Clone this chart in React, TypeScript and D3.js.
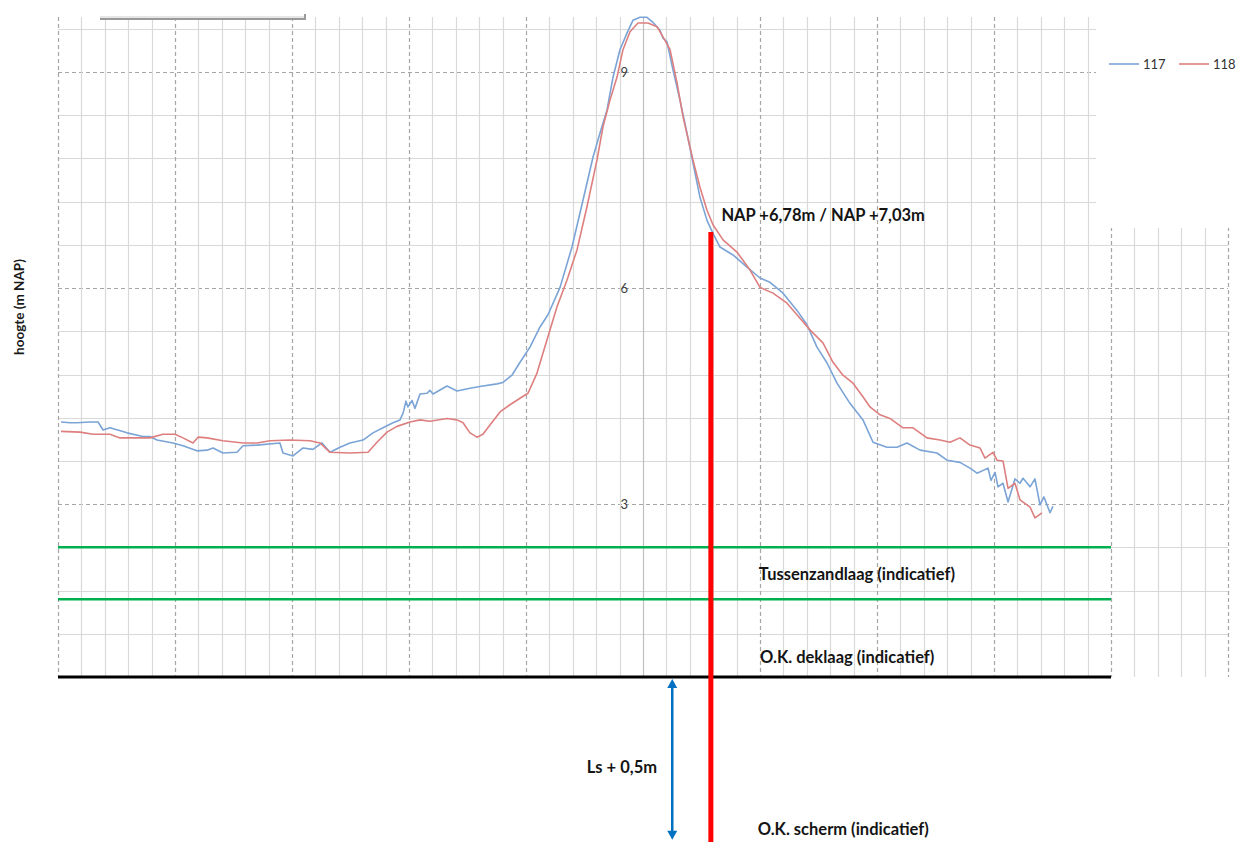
import { useEffect, useRef } from 'react';
import * as d3 from 'd3';

const WIDTH = 1237;
const HEIGHT = 842;

// dwarsprofiel 117: [afstand, hoogte (m NAP)]
const profile117: [number, number][] = [
  [0.26, 4.14], [1.03, 4.13], [1.62, 4.13], [2.74, 4.14], [3.42, 4.14], [3.85, 4.03], [4.44, 4.06],
  [5.9, 3.99], [7.26, 3.94], [7.86, 3.94], [8.46, 3.89], [9.83, 3.85], [10.68, 3.81], [11.88, 3.74],
  [12.74, 3.75], [13.25, 3.78], [14.1, 3.71], [15.3, 3.72], [15.81, 3.81], [17.01, 3.82], [18.97, 3.85],
  [19.23, 3.71], [20.09, 3.67], [20.94, 3.78], [21.79, 3.76], [22.56, 3.85], [23.25, 3.72], [24.1, 3.79],
  [24.96, 3.85], [26.07, 3.89], [26.92, 3.99], [27.78, 4.06], [28.63, 4.13], [29.23, 4.17], [29.49, 4.26],
  [29.74, 4.43], [29.91, 4.35], [30.26, 4.44], [30.51, 4.33], [30.94, 4.53], [31.54, 4.54], [31.79, 4.58],
  [32.05, 4.53], [32.91, 4.61], [33.25, 4.64], [34.1, 4.57], [35.21, 4.61], [36.32, 4.64], [37.52, 4.67],
  [38.03, 4.69], [38.8, 4.79], [39.49, 4.97], [40.34, 5.18], [41.2, 5.46], [41.88, 5.63], [42.91, 6.01],
  [43.93, 6.57], [44.87, 7.22], [45.73, 7.82], [46.32, 8.15], [46.92, 8.47], [47.44, 8.93], [48.03, 9.31],
  [48.63, 9.54], [49.15, 9.72], [49.74, 9.76], [50.34, 9.76], [50.85, 9.69], [51.45, 9.58], [51.71, 9.47],
  [52.05, 9.42], [52.56, 9.03], [53.16, 8.61], [53.76, 8.15], [54.27, 7.74], [54.87, 7.26], [55.47, 6.94],
  [55.98, 6.76], [56.58, 6.57], [57.69, 6.46], [58.89, 6.29], [60.0, 6.14], [60.85, 6.08], [61.97, 5.93],
  [63.16, 5.69], [64.02, 5.49], [64.87, 5.18], [65.73, 4.96], [66.58, 4.68], [67.69, 4.4], [68.8, 4.17],
  [69.66, 3.86], [70.85, 3.79], [71.71, 3.79], [72.56, 3.85], [73.68, 3.75], [75.13, 3.71], [75.98, 3.61],
  [77.09, 3.58], [77.95, 3.5], [78.55, 3.43], [79.49, 3.5], [79.74, 3.33], [80.09, 3.44], [80.34, 3.24],
  [80.77, 3.29], [81.2, 3.03], [81.79, 3.35], [82.22, 3.29], [82.48, 3.36], [83.08, 3.24], [83.5, 3.35],
  [83.93, 2.99], [84.27, 3.1], [84.79, 2.88], [85.04, 2.97],
];

// dwarsprofiel 118
const profile118: [number, number][] = [
  [0.26, 4.01], [1.88, 4.0], [2.99, 3.97], [4.44, 3.97], [5.3, 3.92], [6.15, 3.92], [7.86, 3.92],
  [8.97, 3.97], [10.0, 3.97], [10.68, 3.92], [11.54, 3.85], [11.97, 3.93], [12.74, 3.92], [14.1, 3.88],
  [15.81, 3.85], [17.01, 3.85], [18.12, 3.88], [19.83, 3.89], [21.54, 3.88], [22.39, 3.85], [23.25, 3.72],
  [24.96, 3.71], [26.5, 3.72], [27.26, 3.86], [28.12, 4.0], [28.97, 4.08], [30.09, 4.14], [30.94, 4.17],
  [31.79, 4.15], [33.25, 4.19], [34.1, 4.17], [34.62, 4.13], [35.21, 3.99], [35.81, 3.93], [36.32, 3.97],
  [36.92, 4.1], [37.78, 4.28], [38.63, 4.38], [39.49, 4.47], [40.17, 4.54], [40.94, 4.82], [41.79, 5.28],
  [42.65, 5.74], [43.5, 6.11], [44.36, 6.53], [45.21, 7.13], [46.07, 7.78], [46.58, 8.24], [47.18, 8.61],
  [47.78, 8.93], [48.29, 9.31], [48.89, 9.56], [49.57, 9.68], [50.43, 9.68], [51.2, 9.63], [51.88, 9.44],
  [52.31, 9.31], [52.91, 8.85], [53.42, 8.38], [54.27, 7.78], [54.87, 7.4], [55.47, 7.08], [55.98, 6.88],
  [56.84, 6.67], [58.03, 6.5], [59.15, 6.25], [60.0, 6.01], [61.11, 5.93], [62.31, 5.79], [63.16, 5.63],
  [64.27, 5.42], [65.38, 5.24], [66.24, 4.97], [67.09, 4.79], [67.95, 4.68], [68.8, 4.49], [69.4, 4.35],
  [70.26, 4.24], [71.11, 4.19], [72.22, 4.06], [73.08, 4.06], [74.27, 3.92], [75.38, 3.89], [76.24, 3.86],
  [77.09, 3.92], [77.95, 3.82], [78.8, 3.78], [79.23, 3.64], [79.91, 3.72], [80.26, 3.61], [80.77, 3.6],
  [81.2, 3.22], [81.79, 3.29], [82.22, 3.06], [83.08, 2.96], [83.5, 2.81], [84.1, 2.88],
];

const seriesNames = ['117', '118'];
const seriesColors = ['#7ba4d6', '#de7f7f'];

const yTickLabels = [3, 6, 9];
const yGridValues = [1.2, 1.8, 2.4, 3, 3.6, 4.2, 4.8, 5.4, 6, 6.6, 7.2, 7.8, 8.4, 9, 9.6];
const xGridValues = d3.range(0, 101, 2);

// indicatieve grondlagen (m NAP)
const tussenzandTop = 2.4;
const tussenzandBottom = 1.68;
const deklaagBottom = 0.6;
const schermBottom = -1.66;

// kruinhoogte markering
const crestX = 55.8;
const crestLevel = 6.78;
const arrowX = 52.5;

const App = () => {
  const svgRef = useRef<SVGSVGElement>(null);

  useEffect(() => {
    const svg = d3.select(svgRef.current);
    svg.selectAll('*').remove();

    const x = d3.scaleLinear().domain([0, 100]).range([58, 1228]);
    const y = d3.scaleLinear().domain([0.6, 9.764]).range([677, 17]);
    const [top, bottom] = [y(9.764), y(0.6)];
    const font = 'Lato, "Open Sans", sans-serif';

    const grid = svg.append('g');

    grid.selectAll('line.hgrid')
      .data(yGridValues)
      .join('line')
      .attr('x1', x(0))
      .attr('x2', x(100))
      .attr('y1', d => Math.round(y(d)) + 0.5)
      .attr('y2', d => Math.round(y(d)) + 0.5)
      .attr('stroke', d => (Math.abs(d % 3) < 0.01 ? '#a6a6a6' : '#d9d9d9'))
      .attr('stroke-dasharray', d => (Math.abs(d % 3) < 0.01 ? '4,3' : null))
      .attr('stroke-width', 1.2);

    grid.selectAll('line.vgrid')
      .data(xGridValues)
      .join('line')
      .attr('x1', d => Math.round(x(d)) + 0.5)
      .attr('x2', d => Math.round(x(d)) + 0.5)
      .attr('y1', top)
      .attr('y2', bottom)
      .attr('stroke', d => (d === 50 ? '#bfbfbf' : d % 10 === 0 ? '#a6a6a6' : '#d9d9d9'))
      .attr('stroke-dasharray', d => (d % 10 === 0 && d !== 50 ? '4,3' : null))
      .attr('stroke-width', 1.2);

    // y-as labels
    svg.selectAll('text.ytick')
      .data(yTickLabels)
      .join('text')
      .attr('x', x(50) - 15)
      .attr('y', d => y(d) + 5)
      .attr('text-anchor', 'end')
      .attr('font-family', font)
      .attr('font-size', 13)
      .attr('fill', '#404040')
      .text(d => d);

    svg.append('text')
      .attr('transform', `translate(24,${(top + bottom) / 2 - 40}) rotate(-90)`)
      .attr('text-anchor', 'middle')
      .attr('font-family', font)
      .attr('font-size', 13.5)
      .attr('font-weight', 'bold')
      .attr('fill', '#1a1a1a')
      .text('hoogte (m NAP)');

    // grondlagen
    [tussenzandTop, tussenzandBottom].forEach(v => {
      svg.append('line')
        .attr('x1', x(0)).attr('x2', x(90))
        .attr('y1', y(v)).attr('y2', y(v))
        .attr('stroke', '#00b050')
        .attr('stroke-width', 2.5);
    });
    svg.append('line')
      .attr('x1', x(0)).attr('x2', x(90))
      .attr('y1', y(deklaagBottom)).attr('y2', y(deklaagBottom))
      .attr('stroke', '#000')
      .attr('stroke-width', 3);

    // profielen
    const line = d3.line<[number, number]>().x(d => x(d[0])).y(d => y(d[1]));
    [profile117, profile118].forEach((p, i) => {
      svg.append('path')
        .datum(p)
        .attr('d', line)
        .attr('fill', 'none')
        .attr('stroke', seriesColors[i])
        .attr('stroke-width', 1.6)
        .attr('stroke-linejoin', 'round');
    });

    // kruin markering
    svg.append('line')
      .attr('x1', x(crestX)).attr('x2', x(crestX))
      .attr('y1', y(crestLevel)).attr('y2', HEIGHT)
      .attr('stroke', '#ff0000')
      .attr('stroke-width', 5);

    // pijl Ls + 0,5m
    const ax = x(arrowX);
    const ay1 = y(deklaagBottom) + 2;
    const ay2 = y(schermBottom);
    svg.append('line')
      .attr('x1', ax).attr('x2', ax)
      .attr('y1', ay1 + 6).attr('y2', ay2 - 6)
      .attr('stroke', '#0070c0')
      .attr('stroke-width', 2.5);
    svg.append('path')
      .attr('d', `M${ax},${ay1} L${ax - 5},${ay1 + 9} L${ax + 5},${ay1 + 9} Z`)
      .attr('fill', '#0070c0');
    svg.append('path')
      .attr('d', `M${ax},${ay2} L${ax - 5},${ay2 - 9} L${ax + 5},${ay2 - 9} Z`)
      .attr('fill', '#0070c0');

    const labels = [
      { text: 'NAP +6,78m / NAP +7,03m', x: 56.7, y: 6.93 },
      { text: 'Tussenzandlaag (indicatief)', x: 59.9, y: 1.95 },
      { text: 'O.K. deklaag (indicatief)', x: 60, y: 0.8 },
      { text: 'Ls + 0,5m', x: 45.2, y: -0.73 },
      { text: 'O.K. scherm (indicatief)', x: 59.8, y: -1.59 },
    ];
    svg.selectAll('text.note')
      .data(labels)
      .join('text')
      .attr('x', d => x(d.x))
      .attr('y', d => y(d.y))
      .attr('font-family', font)
      .attr('font-size', 16.5)
      .attr('font-weight', 'bold')
      .attr('fill', '#141414')
      .text(d => d.text);

    // legenda vlak
    svg.append('rect')
      .attr('x', 1096).attr('y', 0)
      .attr('width', WIDTH - 1096).attr('height', 228)
      .attr('fill', '#fff');

    const legend = svg.append('g').attr('transform', 'translate(1109,64)');
    seriesNames.forEach((name, i) => {
      const g = legend.append('g').attr('transform', `translate(${i * 70},0)`);
      g.append('line')
        .attr('x1', 0).attr('x2', 30)
        .attr('stroke', seriesColors[i])
        .attr('stroke-width', 1.6);
      g.append('text')
        .attr('x', 34).attr('y', 5)
        .attr('font-family', font)
        .attr('font-size', 13)
        .attr('fill', '#333')
        .text(name);
    });

    // rand van tekstvak linksboven
    svg.append('rect').attr('x', 100).attr('y', 16).attr('width', 206).attr('height', 2).attr('fill', '#e6e6e6');
    svg.append('rect').attr('x', 100).attr('y', 18).attr('width', 206).attr('height', 2).attr('fill', '#9a9a9a');
    svg.append('rect').attr('x', 304).attr('y', 14).attr('width', 2).attr('height', 6).attr('fill', '#9a9a9a');
  }, []);

  return (
    <div style={{ position: 'absolute', left: 0, top: 0 }}>
      <svg ref={svgRef} width={WIDTH} height={HEIGHT} style={{ display: 'block', background: '#fff' }} />
    </div>
  );
};

export default App;
